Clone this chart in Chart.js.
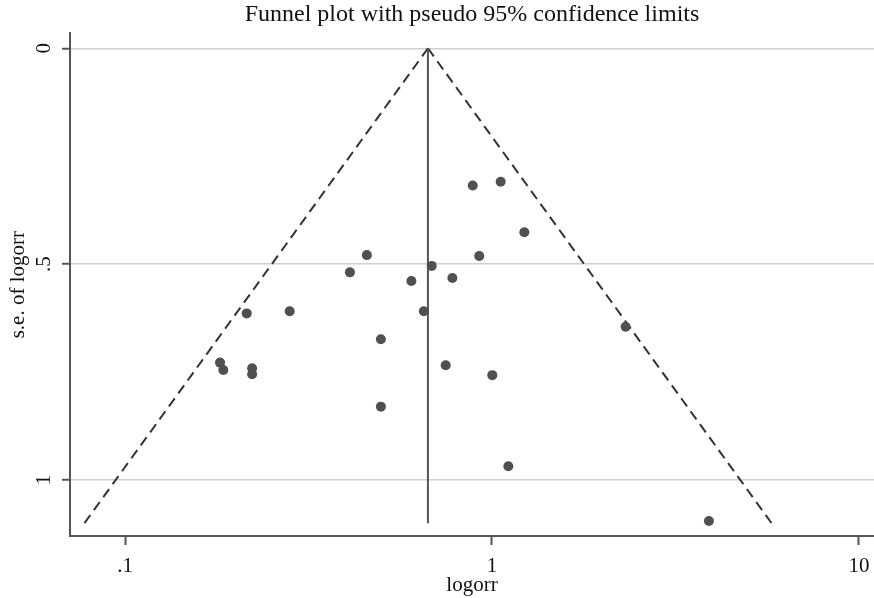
<!DOCTYPE html>
<html>
<head>
<meta charset="utf-8">
<script src="https://cdn.jsdelivr.net/npm/chart.js@4/dist/chart.umd.min.js"></script>
<style>
  html, body { margin: 0; padding: 0; background: #ffffff; }
  #wrap { width: 874px; height: 598px; }
</style>
</head>
<body>
<div id="wrap"><canvas id="c" width="874" height="598"></canvas></div>
<script>
// ---- data ----
const studyOR = [0.886, 1.056, 1.225, 0.456, 0.923, 0.685, 0.410, 0.603, 0.780, 0.2146,
                 0.281, 0.652, 0.498, 0.1815, 0.1853, 0.222, 0.222, 0.748, 1.002, 0.498,
                 2.313, 1.108, 3.90];
const studySE = [0.318, 0.309, 0.426, 0.479, 0.481, 0.504, 0.519, 0.539, 0.532, 0.614,
                 0.609, 0.609, 0.674, 0.728, 0.745, 0.741, 0.755, 0.734, 0.757, 0.830,
                 0.645, 0.968, 1.095];
const pooledOR = 0.669;
const funnelSE = [0, 1.1];
const lowerLimitOR = [0.669, 0.0775];
const upperLimitOR = [0.669, 5.78];
const xTickValues = [0.1, 1, 10];
const xTickLabels = ['.1', '1', '10'];
const yTickValues = [0, 0.5, 1];
const yTickLabels = ['0', '.5', '1'];
const titleText = 'Funnel plot with pseudo 95% confidence limits';
const xTitle = 'logorr';
const yTitle = 's.e. of logorr';

const serif = 'Liberation Serif';

const points = studyOR.map((v, i) => ({ x: v, y: studySE[i] }));
const lowerLine = lowerLimitOR.map((v, i) => ({ x: v, y: funnelSE[i] }));
const upperLine = upperLimitOR.map((v, i) => ({ x: v, y: funnelSE[i] }));
const pooledLine = funnelSE.map(s => ({ x: pooledOR, y: s }));

new Chart(document.getElementById('c'), {
  type: 'scatter',
  data: {
    datasets: [
      { label: 'studies', data: points, pointRadius: 5, pointHoverRadius: 5,
        backgroundColor: '#505050', borderWidth: 0, showLine: false },
      { label: 'pooled', data: pooledLine, showLine: true, pointRadius: 0,
        borderColor: '#555555', borderWidth: 2 },
      { label: 'lower', data: lowerLine, showLine: true, pointRadius: 0,
        borderColor: '#333333', borderWidth: 2, borderDash: [10, 6] },
      { label: 'upper', data: upperLine, showLine: true, pointRadius: 0,
        borderColor: '#333333', borderWidth: 2, borderDash: [10, 6] }
    ]
  },
  options: {
    responsive: false,
    animation: false,
    events: [],
    layout: { padding: 0, autoPadding: false },
    plugins: {
      legend: { display: false },
      tooltip: { enabled: false },
      title: {
        display: true, text: titleText, fullSize: false,
        color: '#111111',
        font: { family: serif, size: 24, weight: 'normal' },
        padding: { top: 0, bottom: 4.5 }
      }
    },
    scales: {
      x: {
        type: 'logarithmic',
        min: 0.0708, max: 10.99,
        afterBuildTicks: s => { s.ticks = xTickValues.map(v => ({ value: v })); },
        afterFit: s => { s.height = 62; s.paddingLeft = 0; s.paddingRight = 0; },
        ticks: {
          callback: (v, i) => xTickLabels[i],
          color: '#111111', font: { family: serif, size: 21 },
          padding: 9, maxRotation: 0, autoSkip: false
        },
        grid: { drawOnChartArea: false, drawTicks: true, tickLength: 9,
                tickColor: '#555555', tickWidth: 2 },
        border: { display: true, color: '#555555', width: 2 },
        title: { display: true, text: xTitle, color: '#111111',
                 font: { family: serif, size: 21 }, padding: { top: 0, bottom: 0 } }
      },
      y: {
        type: 'linear',
        reverse: true,
        min: -0.0347, max: 1.1296,
        afterBuildTicks: s => { s.ticks = yTickValues.map(v => ({ value: v })); },
        afterFit: s => { s.width = 70; s.paddingTop = 0; s.paddingBottom = 0; },
        ticks: {
          callback: (v, i) => yTickLabels[i],
          color: '#111111', font: { family: serif, size: 21 },
          minRotation: 90, maxRotation: 90, crossAlign: 'center', padding: 10
        },
        grid: { drawOnChartArea: true, color: '#d0d0d0', lineWidth: 1.5,
                drawTicks: true, tickLength: 8, tickColor: '#555555', tickWidth: 2 },
        border: { display: true, color: '#555555', width: 2 },
        title: { display: true, text: yTitle, color: '#111111',
                 font: { family: serif, size: 21 }, padding: { top: 6, bottom: 0 } }
      }
    }
  }
});
</script>
</body>
</html>
